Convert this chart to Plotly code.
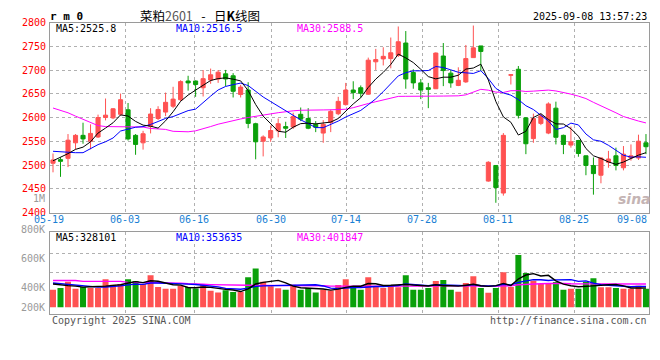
import plotly.graph_objects as go

# ---------------- data ----------------
date_labels = ["05-19", "06-03", "06-16", "06-30", "07-14", "07-28", "08-11", "08-25", "09-08"]

open_ = [2503.8, 2511.4, 2514.1, 2546.8, 2562.5, 2550.2, 2559.1, 2600.0, 2599.3, 2606.8,
         2616.3, 2562.5, 2546.8, 2581.6, 2598.0, 2611.5, 2623.8, 2637.5, 2676.9, 2676.9,
         2662.7, 2679.0, 2681.1, 2692.0, 2687.9, 2648.4, 2657.9, 2587.0, 2550.2, 2557.0,
         2572.0, 2580.9, 2580.2, 2606.8, 2598.0, 2585.7, 2567.3, 2589.8, 2608.0, 2627.2,
         2657.9, 2662.7, 2649.1, 2717.3, 2723.4, 2724.1, 2730.9, 2756.8, 2694.7, 2672.9,
         2662.7, 2660.6, 2729.5, 2693.4, 2667.5, 2675.0, 2726.1, 2750.7, 2466.3, 2499.1,
         2441.1, 2689.0, 2701.6, 2599.3, 2555.7, 2587.7, 2567.3, 2619.7, 2562.5, 2542.0,
         2551.6, 2519.5, 2499.1, 2478.6, 2505.9, 2519.5, 2494.3, 2514.8, 2514.8, 2546.8]
high = [2524.3, 2516.1, 2565.2, 2565.2, 2589.1, 2585.7, 2606.1, 2640.0, 2620.0, 2650.4,
        2630.6, 2565.2, 2572.0, 2619.7, 2623.8, 2652.5, 2664.7, 2678.4, 2687.9, 2678.0,
        2700.0, 2703.0, 2700.0, 2700.2, 2693.4, 2668.8, 2674.3, 2589.0, 2562.5, 2583.0,
        2598.0, 2591.1, 2610.2, 2621.1, 2619.7, 2592.5, 2594.5, 2617.0, 2643.6, 2672.9,
        2676.3, 2667.5, 2726.1, 2744.5, 2747.9, 2768.4, 2791.6, 2782.0, 2701.6, 2681.1,
        2672.9, 2737.0, 2756.8, 2700.2, 2705.7, 2752.7, 2793.6, 2750.7, 2508.0, 2499.5,
        2567.3, 2690.5, 2708.4, 2601.0, 2608.2, 2608.0, 2632.0, 2633.4, 2564.0, 2580.9,
        2553.0, 2520.0, 2516.0, 2516.0, 2529.8, 2536.6, 2540.0, 2543.4, 2563.9, 2565.2]
low = [2484.7, 2475.2, 2495.7, 2533.2, 2544.8, 2533.2, 2557.0, 2594.0, 2596.6, 2604.0,
       2551.6, 2521.6, 2532.5, 2566.6, 2594.6, 2603.0, 2619.7, 2634.7, 2656.6, 2643.6,
       2644.3, 2671.0, 2673.0, 2666.1, 2642.2, 2642.2, 2577.5, 2512.0, 2518.2, 2548.9,
       2558.4, 2557.0, 2576.1, 2592.5, 2575.5, 2569.3, 2546.8, 2569.3, 2605.0, 2625.2,
       2638.8, 2642.2, 2648.0, 2700.2, 2709.7, 2703.6, 2727.5, 2660.6, 2660.6, 2638.8,
       2619.7, 2660.0, 2666.1, 2662.7, 2666.1, 2673.0, 2726.0, 2698.2, 2465.0, 2420.6,
       2435.6, 2669.5, 2598.0, 2522.9, 2546.8, 2584.0, 2565.0, 2543.4, 2523.0, 2536.6,
       2517.5, 2478.6, 2437.7, 2461.6, 2494.3, 2488.8, 2488.8, 2509.3, 2510.7, 2523.0]
close = [2510.7, 2507.9, 2552.3, 2562.5, 2555.0, 2566.6, 2600.0, 2605.0, 2618.4, 2637.5,
         2555.0, 2543.4, 2565.9, 2607.4, 2617.0, 2632.0, 2638.8, 2675.6, 2672.9, 2669.5,
         2681.8, 2690.0, 2695.4, 2681.1, 2655.2, 2664.0, 2587.7, 2548.9, 2559.1, 2572.7,
         2587.0, 2577.5, 2602.0, 2596.6, 2577.5, 2579.5, 2585.7, 2612.9, 2634.0, 2657.9,
         2652.5, 2651.1, 2720.7, 2722.0, 2728.8, 2736.3, 2759.5, 2681.1, 2672.9, 2657.9,
         2659.3, 2735.7, 2698.8, 2672.9, 2678.4, 2724.1, 2746.6, 2739.1, 2505.9, 2452.7,
         2562.5, 2690.0, 2604.7, 2544.8, 2598.0, 2603.4, 2628.6, 2558.4, 2543.4, 2548.9,
         2524.3, 2499.1, 2482.0, 2514.8, 2512.7, 2499.1, 2522.9, 2519.5, 2550.2, 2538.6]
volume = [296000, 329000, 433000, 313000, 345000, 329000, 329000, 477000, 384000, 395000,
          477000, 444000, 395000, 543000, 345000, 313000, 313000, 367000, 345000, 318000,
          384000, 280000, 252000, 291000, 258000, 258000, 510000, 658000, 433000, 356000,
          323000, 296000, 384000, 296000, 329000, 252000, 296000, 285000, 378000, 477000,
          356000, 296000, 510000, 356000, 329000, 378000, 340000, 543000, 296000, 296000,
          329000, 444000, 461000, 296000, 263000, 411000, 526000, 329000, 247000, 329000,
          592000, 345000, 888000, 581000, 450000, 395000, 395000, 428000, 296000, 313000,
          313000, 428000, 493000, 340000, 340000, 329000, 313000, 313000, 367000, 313000]

# moving-average values before enough in-window history exists
ma5_head = [2509, 2516, 2524, 2533]
ma10_head = [2529, 2528, 2526, 2526, 2526, 2535, 2543, 2549, 2557]
ma30_head = [2620, 2615, 2610, 2603, 2596, 2589, 2583, 2581, 2581, 2581,
             2581, 2581, 2580, 2577, 2576, 2575, 2571, 2570, 2570, 2572,
             2576, 2581, 2586, 2590, 2594, 2597, 2600, 2603, 2605]
vma5_head = [395000, 378000, 367000, 360000]
vma10_head = [411000, 400000, 390000, 380000, 370000, 350000, 342000, 345000, 352000]
vma30_head = [455000, 455000, 455000, 455000, 440000, 439000, 439000, 439000, 439000, 439000,
              422000, 422000, 422000, 422000, 420000, 420000, 420000, 410000, 400000, 400000,
              390000, 385000, 380000, 378000, 376000, 374000, 373000, 372000, 372000]

price_legend = ["MA5:2525.8", "MA10:2516.5", "MA30:2588.5"]
volume_legend = ["MA5:328101", "MA10:353635", "MA30:401847"]
price_ticks = [2400, 2450, 2500, 2550, 2600, 2650, 2700, 2750, 2800]
volume_tick_labels = ["1M", "800K", "600K", "400K", "200K"]

# ---------------- layout constants (pixels) ----------------
W, H = 660, 360
LEFT, RIGHT = 50, 649
P_TOP, P_BOT = 18, 213.5
V_TOP, V_BOT = 233.7, 318
C0_PX, STEP = 53.0, 7.506          # first candle centre, candle pitch
VBASE_PX, VPX = 311.0, 16450.0     # volume zero line, volume per pixel
GRID_PX = [125.3, 194.3, 271.0, 346.3, 422.3, 498.3, 574.3]
LABEL_PX = [49.3] + GRID_PX
VGRID_PX = [255.3, 275.3]
VLABEL_PY = [199.3, 230.7, 260.7, 291.0, 311.0]

RED, GREEN = "#ff5252", "#0aa00a"
FRAME, GRID = "#9a9a9a", "#b0b0b0"
MONO = "DejaVu Sans Mono"
NB = "\u00a0"


def xi(px):
    return (px - C0_PX) / STEP


def vval(py):
    return (VBASE_PX - py) * VPX


def moving_avg(vals, n, head):
    out = list(head)
    for i in range(len(head), len(vals)):
        win = vals[i - n + 1:i + 1]
        out.append(sum(win) / n)
    return out


idx = list(range(len(close)))
ma5 = moving_avg(close, 5, ma5_head)
ma10 = moving_avg(close, 10, ma10_head)
ma30 = moving_avg(close, 30, ma30_head)
vma5 = moving_avg(volume, 5, vma5_head)
vma10 = moving_avg(volume, 10, vma10_head)
vma30 = moving_avg(volume, 30, vma30_head)
bar_colors = [RED if c >= o else GREEN for o, c in zip(open_, close)]

fig = go.Figure()
fig.add_trace(go.Candlestick(
    x=idx, open=open_, high=high, low=low, close=close,
    increasing=dict(line=dict(color=RED, width=1), fillcolor=RED),
    decreasing=dict(line=dict(color=GREEN, width=1), fillcolor=GREEN),
    whiskerwidth=0, xaxis="x", yaxis="y", showlegend=False, hoverinfo="skip"))
for ys, col in [(ma30, "#ff00ff"), (ma10, "#0000ff"), (ma5, "#000000")]:
    fig.add_trace(go.Scatter(x=idx, y=ys, mode="lines", line=dict(color=col, width=1),
                             xaxis="x", yaxis="y", showlegend=False, hoverinfo="skip"))

fig.add_trace(go.Bar(x=idx, y=volume, marker=dict(color=bar_colors, line=dict(width=0)),
                     xaxis="x2", yaxis="y2", showlegend=False, hoverinfo="skip"))
for ys, col in [(vma30, "#ff00ff"), (vma10, "#0000ff"), (vma5, "#000000")]:
    fig.add_trace(go.Scatter(x=idx, y=ys, mode="lines", line=dict(color=col, width=1.4),
                             xaxis="x2", yaxis="y2", showlegend=False, hoverinfo="skip"))

xdom = [LEFT / W, RIGHT / W]
xrange_ = [xi(LEFT), xi(RIGHT)]
grid_vals = [xi(p) for p in GRID_PX]
common_x = dict(domain=xdom, range=xrange_, tickvals=grid_vals, showticklabels=False,
                showgrid=True, gridcolor=GRID, griddash="dot", gridwidth=1,
                showline=True, mirror=True, linecolor=FRAME, linewidth=1,
                zeroline=False, ticks="", fixedrange=True)

fig.update_layout(
    width=W, height=H, margin=dict(l=0, r=0, t=0, b=0),
    paper_bgcolor="white", plot_bgcolor="white",
    font=dict(family=MONO, size=10, color="black"),
    boxgap=0.22, bargap=0.2,
    xaxis=dict(**common_x, anchor="y", rangeslider=dict(visible=False)),
    xaxis2=dict(**common_x, anchor="y2", matches="x"),
    yaxis=dict(domain=[1 - P_BOT / H, 1 - P_TOP / H], range=[2400, 2800],
               tickvals=price_ticks, ticktext=[str(t) for t in price_ticks],
               tickfont=dict(family=MONO, size=10, color="#ff0000"),
               showgrid=True, gridcolor=GRID, griddash="dot", gridwidth=1,
               showline=True, mirror=True, linecolor=FRAME, linewidth=1,
               zeroline=False, ticks="", ticklabelstandoff=1, anchor="x", fixedrange=True),
    yaxis2=dict(domain=[1 - V_BOT / H, 1 - V_TOP / H], range=[vval(V_BOT), vval(V_TOP)],
                tickvals=[vval(p) for p in VGRID_PX], showticklabels=False,
                showgrid=True, gridcolor=GRID, griddash="dot", gridwidth=1,
                showline=True, mirror=True, linecolor=FRAME, linewidth=1,
                zeroline=False, ticks="", anchor="x2", fixedrange=True),
)

anns = []


def ann(text, px, py, xanchor="left", color="black", size=10, family=MONO):
    anns.append(dict(text=text, x=px / W, y=1 - py / H, xref="paper", yref="paper",
                     xanchor=xanchor, yanchor="middle", showarrow=False,
                     font=dict(family=family, size=size, color=color)))


# headers
ann("<b>r m 0</b>", 48, 12, size=11)
ann("菜粕<span style='color:#555555'>2601</span>" + NB * 3 + "-" + NB * 3 + "日<b>K</b>线图",
    200, 10.5, xanchor="center", size=12.5, family="Noto Sans CJK SC")
ann("2025-09-08 13:57:23", 649, 11.5, xanchor="right")

# legends
for txt, px, col in zip(price_legend, [54, 174, 295], ["#000000", "#0000ff", "#ff00ff"]):
    ann(txt, px, 24, color=col)
for txt, px, col in zip(volume_legend, [54, 174, 295], ["#000000", "#0000ff", "#ff00ff"]):
    ann(txt, px, 239, color=col)

# date labels
for lab, px in zip(date_labels[:-1], LABEL_PX):
    ann(lab, px, 221, xanchor="center", color="#1a7fd4")
ann(date_labels[-1], 649, 221, xanchor="right", color="#1a7fd4")

# volume axis labels
for lab, py in zip(volume_tick_labels, VLABEL_PY):
    ann(lab, 46.5, py, xanchor="right", color="#9a9a9a")

# footer
ann("Copyright 2025 SINA.COM", 50, 324, color="#555555")
ann("http://finance.sina.com.cn", 649, 324, xanchor="right", color="#555555")

# watermark
ann("<b><i>sina</i></b>", 634, 200, xanchor="center", color="#c4b4b4", size=14, family="DejaVu Sans")

fig.update_layout(annotations=anns)
fig.write_html("out.html", config={"displayModeBar": False},
               post_script="document.body.style.margin='0px';document.body.style.overflow='hidden';")
